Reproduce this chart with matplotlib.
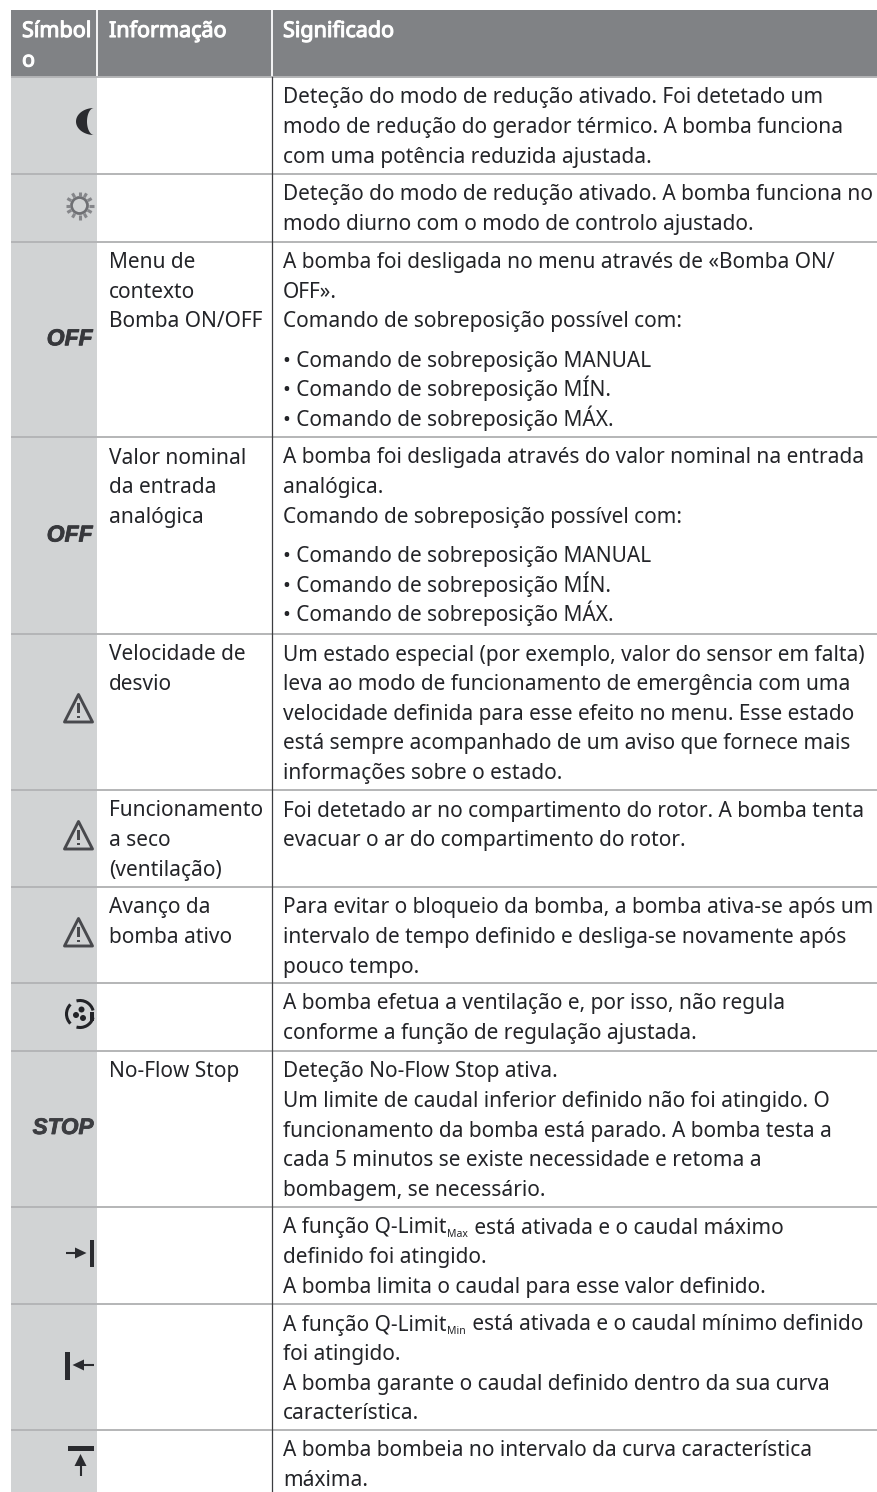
import re
import numpy as np
import matplotlib
matplotlib.use("Agg")
import matplotlib.pyplot as plt
import matplotlib.patheffects as pe
from matplotlib.patches import Rectangle, Polygon, Circle, Arc

headers = [["Símbol", "o"], ["Informação"], ["Significado"]]

symbols = ["moon", "sun", "OFF", "OFF", "warn", "warn", "warn", "fan", "STOP",
           "limit_right", "limit_left", "limit_top"]

infos = [
    [],
    [],
    ["Menu de", "contexto", "Bomba ON/OFF"],
    ["Valor nominal", "da entrada", "analógica"],
    ["Velocidade de", "desvio"],
    ["Funcionamento", "a seco", "(ventilação)"],
    ["Avanço da", "bomba ativo"],
    [],
    ["No-Flow Stop"],
    [],
    [],
    [],
]

override = ["• Comando de sobreposição MANUAL",
            "• Comando de sobreposição MÍN.",
            "• Comando de sobreposição MÁX."]

meanings = [
    ["Deteção do modo de redução ativado. Foi detetado um",
     "modo de redução do gerador térmico. A bomba funciona",
     "com uma potência reduzida ajustada."],
    ["Deteção do modo de redução ativado. A bomba funciona no",
     "modo diurno com o modo de controlo ajustado."],
    ["A bomba foi desligada no menu através de «Bomba ON/",
     "OFF».",
     "Comando de sobreposição possível com:"] + override,
    ["A bomba foi desligada através do valor nominal na entrada",
     "analógica.",
     "Comando de sobreposição possível com:"] + override,
    ["Um estado especial (por exemplo, valor do sensor em falta)",
     "leva ao modo de funcionamento de emergência com uma",
     "velocidade definida para esse efeito no menu. Esse estado",
     "está sempre acompanhado de um aviso que fornece mais",
     "informações sobre o estado."],
    ["Foi detetado ar no compartimento do rotor. A bomba tenta",
     "evacuar o ar do compartimento do rotor."],
    ["Para evitar o bloqueio da bomba, a bomba ativa-se após um",
     "intervalo de tempo definido e desliga-se novamente após",
     "pouco tempo."],
    ["A bomba efetua a ventilação e, por isso, não regula",
     "conforme a função de regulação ajustada."],
    ["Deteção No-Flow Stop ativa.",
     "Um limite de caudal inferior definido não foi atingido. O",
     "funcionamento da bomba está parado. A bomba testa a",
     "cada 5 minutos se existe necessidade e retoma a",
     "bombagem, se necessário."],
    ["A função Q-Limit_{Max} está ativada e o caudal máximo",
     "definido foi atingido.",
     "A bomba limita o caudal para esse valor definido."],
    ["A função Q-Limit_{Min} está ativada e o caudal mínimo definido",
     "foi atingido.",
     "A bomba garante o caudal definido dentro da sua curva",
     "característica."],
    ["A bomba bombeia no intervalo da curva característica",
     "máxima."],
]

# row edges in pixels, header first
row_edges = [10, 77, 173.5, 241.5, 437, 634, 790, 887, 983, 1051, 1207, 1304, 1430, 1492]
col_edges = [10.5, 97, 271.5, 877]

# top of each warning triangle, keyed by the top of its row
warn_tops = {634: 693, 790: 820, 887: 917}

FONT = "Noto Sans"
SIZE = 15.0
PITCH = 29.6
INK = "#232428"
ICON = "#2a2b2f"
WARN = "#48494d"
LEFT = 10.5

fig = plt.figure(figsize=(8.77, 14.92), dpi=100)
ax = fig.add_axes([0, 0, 1, 1])
ax.set_xlim(0, 877)
ax.set_ylim(1492, 0)
ax.axis("off")


def put_line(x, y, line):
    # plain text and small subscripts, written one run after the other
    renderer = fig.canvas.get_renderer()
    for i, part in enumerate(re.split(r"_\{(.*?)\}", line)):
        if not part:
            continue
        small = i % 2 == 1
        t = ax.text(x, y + (3.5 if small else 0), part, family=FONT,
                    fontsize=SIZE * 0.5 if small else SIZE, color=INK, va="baseline")
        box = t.get_window_extent(renderer)
        x = ax.transData.inverted().transform((box.x1, 0))[0] + 1


def triangle(top):
    ax.add_patch(Polygon([(78.5, top + 1.5), (64.5, top + 29), (92.5, top + 29)], closed=True,
                         fill=False, ec=WARN, lw=2.1, joinstyle="round"))
    ax.add_patch(Rectangle((77.4, top + 10), 2.2, 10, color=WARN, lw=0))
    ax.add_patch(Rectangle((77.4, top + 22.5), 2.2, 2.4, color=WARN, lw=0))


def draw_symbol(kind, top, bottom):
    mid = (top + bottom) / 2
    if kind == "moon":
        a = np.linspace(np.pi / 2, 3 * np.pi / 2, 40)
        outer = np.c_[94 + 18 * np.cos(a), 121.5 + 13.5 * np.sin(a)]
        inner = np.c_[94 + 7 * np.cos(a[::-1]), 121.5 + 13.5 * np.sin(a[::-1])]
        ax.add_patch(Polygon(np.r_[outer, inner], closed=True, fc=ICON, ec="none"))
    elif kind == "sun":
        cx, cy = 79.5, 205.5
        ax.add_patch(Circle((cx, cy), 8, fill=False, ec="#6f7074", lw=2))
        for a in np.arange(0, 2 * np.pi, np.pi / 6):
            ax.plot([cx + 9.5 * np.cos(a), cx + 14 * np.cos(a)],
                    [cy + 9.5 * np.sin(a), cy + 14 * np.sin(a)], color="#85868a", lw=2.2,
                    solid_capstyle="butt")
    elif kind in ("OFF", "STOP"):
        color = "#37383c" if kind == "OFF" else "#3c3d41"
        ax.text(92.5 if kind == "OFF" else 93.5, mid + (6 if kind == "OFF" else 5), kind,
                family="Liberation Sans", weight="bold", style="italic",
                fontsize=16.5 if kind == "OFF" else 16.2, color=color, ha="right", va="baseline",
                path_effects=[pe.withStroke(linewidth=0.6, foreground=color)])
    elif kind == "warn":
        triangle(warn_tops[top])
    elif kind == "fan":
        cx, cy = 80, 1014
        for start in (15, 135, 255):
            ax.add_patch(Arc((cx, cy), 27, 27, theta1=start, theta2=start + 90,
                             color="#222327", lw=2.2))
        for dx, dy in [(1.5, -4.5), (-4, 1), (3, 4)]:
            ax.add_patch(Circle((cx + dx, cy + dy), 3, color="#222327", lw=0))
        ax.add_patch(Rectangle((89.5, 1012), 4.5, 9, color="#222327", lw=0))
    elif kind == "limit_right":
        ax.add_patch(Rectangle((89.5, 1239.5), 4.5, 27.5, color=ICON, lw=0))
        ax.plot([65.5, 80], [1253, 1253], color=ICON, lw=1.5, solid_capstyle="butt")
        ax.add_patch(Polygon([(75, 1247.5), (86.5, 1253), (75, 1258.5)], closed=True, color=ICON, lw=0))
    elif kind == "limit_left":
        ax.add_patch(Rectangle((65, 1352), 4.5, 27.5, color=ICON, lw=0))
        ax.plot([80, 94], [1365, 1365], color=ICON, lw=1.5, solid_capstyle="butt")
        ax.add_patch(Polygon([(84, 1359.5), (72.5, 1365), (84, 1370.5)], closed=True, color=ICON, lw=0))
    elif kind == "limit_top":
        ax.add_patch(Rectangle((67.5, 1446), 26.5, 4.5, color=ICON, lw=0))
        ax.plot([80.5, 80.5], [1462, 1476], color=ICON, lw=1.5, solid_capstyle="butt")
        ax.add_patch(Polygon([(74.5, 1466), (80.5, 1454), (86.5, 1466)], closed=True, color=ICON, lw=0))


# header band, the stroke thickens the regular weight
ax.add_patch(Rectangle((LEFT, row_edges[0]), 877 - LEFT, row_edges[1] - row_edges[0], color="#808285", lw=0))
for x in col_edges[1:3]:
    ax.plot([x, x], [row_edges[0], row_edges[1]], color="white", lw=1.3)
for x, lines in zip([22, 109, 283], headers):
    for n, line in enumerate(lines):
        ax.text(x, 37 + n * 29.5, line, family=FONT, fontsize=15.5, color="white", va="baseline",
                path_effects=[pe.withStroke(linewidth=0.8, foreground="white")])

# symbol column and rules
ax.add_patch(Rectangle((LEFT, row_edges[1]), col_edges[1] - LEFT, 1492 - row_edges[1], color="#d1d3d4", lw=0))
for y in row_edges[1:-1]:
    ax.plot([LEFT, 877], [y, y], color="#b4b5b7", lw=1.4, solid_capstyle="butt")
ax.plot([col_edges[2], col_edges[2]], [row_edges[1], 1492], color="#3c3d40", lw=0.9)

for i, kind in enumerate(symbols):
    top, bottom = row_edges[i + 1], row_edges[i + 2]
    draw_symbol(kind, top, bottom)
    for n, line in enumerate(infos[i]):
        put_line(109, top + 26.5 + n * PITCH, line)
    for n, line in enumerate(meanings[i]):
        gap = 10 if line.startswith("•") else 0
        put_line(283, top + 26.5 + n * PITCH + gap, line)

fig.savefig("out.png", dpi=100, facecolor="white")
